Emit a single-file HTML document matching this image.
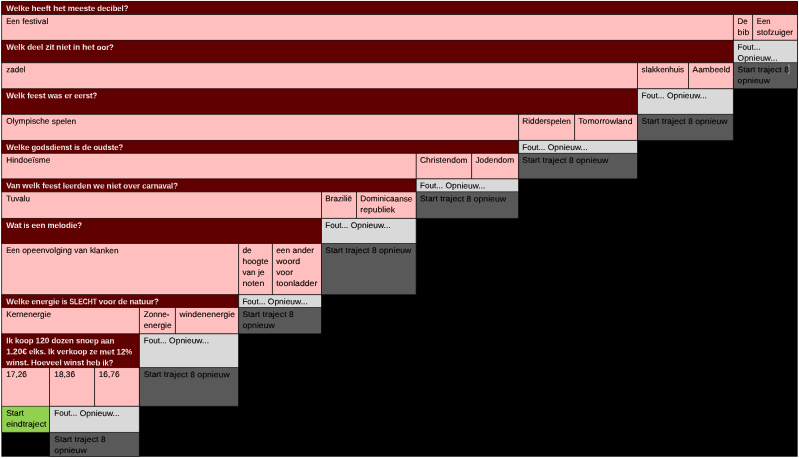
<!DOCTYPE html>
<html lang="nl"><head><meta charset="utf-8"><title>Traject 8</title>
<style>
html,body{margin:0;padding:0;background:#fff;overflow:hidden}
svg{display:block}
text{font-family:"Liberation Sans",sans-serif;font-size:8.12px;text-rendering:geometricPrecision;stroke-width:0.1px}
.k{stroke:#000}.w{stroke:#600000;stroke-width:0.14px}
.b{font-weight:bold}
</style></head><body>
<svg width="799" height="459" viewBox="0 0 799 459">
<rect x="0" y="0" width="799" height="459" fill="#fff"/>
<rect x="1.40" y="1.20" width="796.25" height="455.50" fill="#000"/>
<rect x="1.55" y="1.40" width="795.95" height="13.10" fill="#600000"/>
<rect x="1.55" y="14.50" width="731.85" height="25.75" fill="#FFBFBF"/>
<rect x="733.40" y="14.50" width="19.20" height="25.75" fill="#FFBFBF"/>
<rect x="752.60" y="14.50" width="44.90" height="25.75" fill="#FFBFBF"/>
<rect x="1.55" y="40.25" width="731.85" height="22.45" fill="#600000"/>
<rect x="733.40" y="40.25" width="64.10" height="22.45" fill="#D9D9D9"/>
<rect x="1.55" y="62.70" width="635.95" height="26.00" fill="#FFBFBF"/>
<rect x="637.50" y="62.70" width="51.00" height="26.00" fill="#FFBFBF"/>
<rect x="688.50" y="62.70" width="44.90" height="26.00" fill="#FFBFBF"/>
<rect x="733.40" y="62.70" width="64.10" height="26.00" fill="#595959"/>
<rect x="1.55" y="88.70" width="635.95" height="25.60" fill="#600000"/>
<rect x="637.50" y="88.70" width="95.90" height="25.60" fill="#D9D9D9"/>
<rect x="1.55" y="114.30" width="517.05" height="26.10" fill="#FFBFBF"/>
<rect x="518.60" y="114.30" width="56.00" height="26.10" fill="#FFBFBF"/>
<rect x="574.60" y="114.30" width="62.90" height="26.10" fill="#FFBFBF"/>
<rect x="637.50" y="114.30" width="95.90" height="26.10" fill="#595959"/>
<rect x="1.55" y="140.40" width="517.05" height="12.90" fill="#600000"/>
<rect x="518.60" y="140.40" width="118.90" height="12.90" fill="#D9D9D9"/>
<rect x="1.55" y="153.30" width="414.65" height="25.50" fill="#FFBFBF"/>
<rect x="416.20" y="153.30" width="55.40" height="25.50" fill="#FFBFBF"/>
<rect x="471.60" y="153.30" width="47.00" height="25.50" fill="#FFBFBF"/>
<rect x="518.60" y="153.30" width="118.90" height="25.50" fill="#595959"/>
<rect x="1.55" y="178.80" width="414.65" height="13.00" fill="#600000"/>
<rect x="416.20" y="178.80" width="102.40" height="13.00" fill="#D9D9D9"/>
<rect x="1.55" y="191.80" width="319.95" height="26.60" fill="#FFBFBF"/>
<rect x="321.50" y="191.80" width="35.00" height="26.60" fill="#FFBFBF"/>
<rect x="356.50" y="191.80" width="59.70" height="26.60" fill="#FFBFBF"/>
<rect x="416.20" y="191.80" width="102.40" height="26.60" fill="#595959"/>
<rect x="1.55" y="218.40" width="319.95" height="25.10" fill="#600000"/>
<rect x="321.50" y="218.40" width="94.70" height="25.10" fill="#D9D9D9"/>
<rect x="1.55" y="243.50" width="237.05" height="51.10" fill="#FFBFBF"/>
<rect x="238.60" y="243.50" width="33.80" height="51.10" fill="#FFBFBF"/>
<rect x="272.40" y="243.50" width="49.10" height="51.10" fill="#FFBFBF"/>
<rect x="321.50" y="243.50" width="94.70" height="51.10" fill="#595959"/>
<rect x="1.55" y="294.60" width="237.05" height="12.90" fill="#600000"/>
<rect x="238.60" y="294.60" width="82.90" height="12.90" fill="#D9D9D9"/>
<rect x="1.55" y="307.50" width="137.85" height="26.25" fill="#FFBFBF"/>
<rect x="139.40" y="307.50" width="36.00" height="26.25" fill="#FFBFBF"/>
<rect x="175.40" y="307.50" width="63.20" height="26.25" fill="#FFBFBF"/>
<rect x="238.60" y="307.50" width="82.90" height="26.25" fill="#595959"/>
<rect x="1.55" y="333.75" width="137.85" height="33.80" fill="#600000"/>
<rect x="139.40" y="333.75" width="99.20" height="33.80" fill="#D9D9D9"/>
<rect x="1.55" y="367.55" width="47.95" height="38.75" fill="#FFBFBF"/>
<rect x="49.50" y="367.55" width="45.05" height="38.75" fill="#FFBFBF"/>
<rect x="94.55" y="367.55" width="44.85" height="38.75" fill="#FFBFBF"/>
<rect x="139.40" y="367.55" width="99.20" height="38.75" fill="#595959"/>
<rect x="1.55" y="406.30" width="47.95" height="26.10" fill="#92D050"/>
<rect x="49.50" y="406.30" width="89.90" height="26.10" fill="#D9D9D9"/>
<rect x="49.50" y="432.40" width="89.90" height="24.10" fill="#595959"/>
<path d="M1.65 1.40L1.65 14.50M1.65 14.50L1.65 40.25M1.65 40.25L1.65 62.70M1.65 62.70L1.65 88.70M1.65 88.70L1.65 114.30M1.65 114.30L1.65 140.40M1.65 140.40L1.65 153.30M1.65 153.30L1.65 178.80M1.65 178.80L1.65 191.80M1.65 191.80L1.65 218.40M1.65 218.40L1.65 243.50M1.65 243.50L1.65 294.60M1.65 294.60L1.65 307.50M1.65 307.50L1.65 333.75M1.65 333.75L1.65 367.55M1.65 367.55L1.65 406.30M1.65 406.30L1.65 432.40" stroke="#000" stroke-width="0.55" fill="none"/>
<path d="M1.55 1.40L797.50 1.40M1.55 14.50L733.40 14.50M1.55 14.50L797.50 14.50M1.55 40.25L733.40 40.25M1.55 62.70L637.50 62.70M1.55 62.70L733.40 62.70M1.55 88.70L637.50 88.70M1.55 114.30L518.60 114.30M1.55 114.30L637.50 114.30M1.55 140.40L518.60 140.40M1.55 153.30L416.20 153.30M1.55 153.30L518.60 153.30M1.55 178.80L416.20 178.80M1.55 191.80L321.50 191.80M1.55 191.80L416.20 191.80M1.55 218.40L321.50 218.40M1.55 243.50L238.60 243.50M1.55 243.50L321.50 243.50M1.55 294.60L238.60 294.60M1.55 307.50L139.40 307.50M1.55 307.50L238.60 307.50M1.55 333.75L139.40 333.75M1.55 367.55L49.50 367.55M1.55 367.55L139.40 367.55M1.55 406.30L49.50 406.30M1.55 432.40L49.50 432.40M49.50 367.55L94.55 367.55M49.50 406.30L94.55 406.30M49.50 406.30L139.40 406.30M49.50 432.40L139.40 432.40M49.50 456.50L139.40 456.50M94.55 367.55L139.40 367.55M94.55 406.30L139.40 406.30M139.40 307.50L175.40 307.50M139.40 333.75L175.40 333.75M139.40 333.75L238.60 333.75M139.40 367.55L238.60 367.55M139.40 406.30L238.60 406.30M175.40 307.50L238.60 307.50M175.40 333.75L238.60 333.75M238.60 243.50L272.40 243.50M238.60 294.60L272.40 294.60M238.60 294.60L321.50 294.60M238.60 307.50L321.50 307.50M238.60 333.75L321.50 333.75M272.40 243.50L321.50 243.50M272.40 294.60L321.50 294.60M321.50 191.80L356.50 191.80M321.50 218.40L356.50 218.40M321.50 218.40L416.20 218.40M321.50 243.50L416.20 243.50M321.50 294.60L416.20 294.60M356.50 191.80L416.20 191.80M356.50 218.40L416.20 218.40M416.20 153.30L471.60 153.30M416.20 178.80L471.60 178.80M416.20 178.80L518.60 178.80M416.20 191.80L518.60 191.80M416.20 218.40L518.60 218.40M471.60 153.30L518.60 153.30M471.60 178.80L518.60 178.80M518.60 114.30L574.60 114.30M518.60 140.40L574.60 140.40M518.60 140.40L637.50 140.40M518.60 153.30L637.50 153.30M518.60 178.80L637.50 178.80M574.60 114.30L637.50 114.30M574.60 140.40L637.50 140.40M637.50 62.70L688.50 62.70M637.50 88.70L688.50 88.70M637.50 88.70L733.40 88.70M637.50 114.30L733.40 114.30M637.50 140.40L733.40 140.40M688.50 62.70L733.40 62.70M688.50 88.70L733.40 88.70M733.40 14.50L752.60 14.50M733.40 40.25L752.60 40.25M733.40 40.25L797.50 40.25M733.40 62.70L797.50 62.70M733.40 88.70L797.50 88.70M752.60 14.50L797.50 14.50M752.60 40.25L797.50 40.25" stroke="#000" stroke-width="0.42" fill="none"/>
<path d="M49.50 367.55L49.50 406.30M49.50 406.30L49.50 432.40M49.50 432.40L49.50 456.50M94.55 367.55L94.55 406.30M139.40 307.50L139.40 333.75M139.40 333.75L139.40 367.55M139.40 367.55L139.40 406.30M139.40 406.30L139.40 432.40M139.40 432.40L139.40 456.50M175.40 307.50L175.40 333.75M238.60 243.50L238.60 294.60M238.60 294.60L238.60 307.50M238.60 307.50L238.60 333.75M238.60 333.75L238.60 367.55M238.60 367.55L238.60 406.30M272.40 243.50L272.40 294.60M321.50 191.80L321.50 218.40M321.50 218.40L321.50 243.50M321.50 243.50L321.50 294.60M321.50 294.60L321.50 307.50M321.50 307.50L321.50 333.75M356.50 191.80L356.50 218.40M416.20 153.30L416.20 178.80M416.20 178.80L416.20 191.80M416.20 191.80L416.20 218.40M416.20 218.40L416.20 243.50M416.20 243.50L416.20 294.60M471.60 153.30L471.60 178.80M518.60 114.30L518.60 140.40M518.60 140.40L518.60 153.30M518.60 153.30L518.60 178.80M518.60 178.80L518.60 191.80M518.60 191.80L518.60 218.40M574.60 114.30L574.60 140.40M637.50 62.70L637.50 88.70M637.50 88.70L637.50 114.30M637.50 114.30L637.50 140.40M637.50 140.40L637.50 153.30M637.50 153.30L637.50 178.80M688.50 62.70L688.50 88.70M733.40 14.50L733.40 40.25M733.40 40.25L733.40 62.70M733.40 62.70L733.40 88.70M733.40 88.70L733.40 114.30M733.40 114.30L733.40 140.40M752.60 14.50L752.60 40.25M797.50 1.40L797.50 14.50M797.50 14.50L797.50 40.25M797.50 40.25L797.50 62.70M797.50 62.70L797.50 88.70" stroke="#000" stroke-width="0.70" fill="none"/>
<rect x="788.4" y="64.5" width="0.9" height="9.5" fill="#b0b0b0"/>
<g transform="matrix(1 0.001 0 1 0 0)">
<text class="b w" y="10.94" fill="#fff"><tspan x="6.15" textLength="23.28" lengthAdjust="spacingAndGlyphs">Welke</tspan> <tspan x="31.47" textLength="19.63" lengthAdjust="spacingAndGlyphs">heeft</tspan> <tspan x="53.15" textLength="12.47" lengthAdjust="spacingAndGlyphs">het</tspan> <tspan x="67.66" textLength="27.53" lengthAdjust="spacingAndGlyphs">meeste</tspan> <tspan x="97.24" textLength="31.22" lengthAdjust="spacingAndGlyphs">decibel?</tspan></text>
<text class="k" y="24.04" fill="#000"><tspan x="6.15" textLength="13.63" lengthAdjust="spacingAndGlyphs">Een</tspan> <tspan x="22.18" textLength="26.12" lengthAdjust="spacingAndGlyphs">festival</tspan></text>
<text class="k" y="23.31" fill="#000"><tspan x="737.60" textLength="10.16" lengthAdjust="spacingAndGlyphs">De</tspan></text>
<text class="k" y="34.31" fill="#000"><tspan x="737.60" textLength="11.69" lengthAdjust="spacingAndGlyphs">bib</tspan></text>
<text class="k" y="23.29" fill="#000"><tspan x="756.80" textLength="13.63" lengthAdjust="spacingAndGlyphs">Een</tspan></text>
<text class="k" y="34.29" fill="#000"><tspan x="756.80" textLength="36.35" lengthAdjust="spacingAndGlyphs">stofzuiger</tspan></text>
<text class="b w" y="49.79" fill="#fff"><tspan x="6.15" textLength="18.98" lengthAdjust="spacingAndGlyphs">Welk</tspan> <tspan x="27.17" textLength="16.17" lengthAdjust="spacingAndGlyphs">deel</tspan> <tspan x="45.38" textLength="8.95" lengthAdjust="spacingAndGlyphs">zit</tspan> <tspan x="56.37" textLength="14.69" lengthAdjust="spacingAndGlyphs">niet</tspan> <tspan x="73.11" textLength="7.07" lengthAdjust="spacingAndGlyphs">in</tspan> <tspan x="82.22" textLength="12.47" lengthAdjust="spacingAndGlyphs">het</tspan> <tspan x="96.73" textLength="17.12" lengthAdjust="spacingAndGlyphs">oor?</tspan></text>
<text class="k" y="49.06" fill="#000"><tspan x="737.60" textLength="23.04" lengthAdjust="spacingAndGlyphs">Fout...</tspan></text>
<text class="k" y="60.06" fill="#000"><tspan x="737.60" textLength="39.91" lengthAdjust="spacingAndGlyphs">Opnieuw...</tspan></text>
<text class="k" y="72.24" fill="#000"><tspan x="6.15" textLength="19.26" lengthAdjust="spacingAndGlyphs">zadel</tspan></text>
<text class="k" y="71.61" fill="#000"><tspan x="641.55" textLength="42.65" lengthAdjust="spacingAndGlyphs">slakkenhuis</tspan></text>
<text class="k" y="71.56" fill="#000"><tspan x="692.55" textLength="37.73" lengthAdjust="spacingAndGlyphs">Aambeeld</tspan></text>
<text class="k" y="71.51" fill="#000"><tspan x="737.60" textLength="17.76" lengthAdjust="spacingAndGlyphs">Start</tspan> <tspan x="757.76" textLength="24.07" lengthAdjust="spacingAndGlyphs">traject</tspan> <tspan x="784.23" textLength="4.63" lengthAdjust="spacingAndGlyphs">8</tspan></text>
<text class="k" y="82.51" fill="#000"><tspan x="737.60" textLength="32.37" lengthAdjust="spacingAndGlyphs">opnieuw</tspan></text>
<text class="b w" y="98.24" fill="#fff"><tspan x="6.15" textLength="18.98" lengthAdjust="spacingAndGlyphs">Welk</tspan> <tspan x="27.17" textLength="18.44" lengthAdjust="spacingAndGlyphs">feest</tspan> <tspan x="47.65" textLength="14.71" lengthAdjust="spacingAndGlyphs">was</tspan> <tspan x="64.40" textLength="7.76" lengthAdjust="spacingAndGlyphs">er</tspan> <tspan x="74.20" textLength="23.03" lengthAdjust="spacingAndGlyphs">eerst?</tspan></text>
<text class="k" y="97.61" fill="#000"><tspan x="641.55" textLength="23.04" lengthAdjust="spacingAndGlyphs">Fout...</tspan> <tspan x="666.99" textLength="39.91" lengthAdjust="spacingAndGlyphs">Opnieuw...</tspan></text>
<text class="k" y="123.84" fill="#000"><tspan x="6.15" textLength="43.23" lengthAdjust="spacingAndGlyphs">Olympische</tspan> <tspan x="51.78" textLength="24.35" lengthAdjust="spacingAndGlyphs">spelen</tspan></text>
<text class="k" y="123.33" fill="#000"><tspan x="522.30" textLength="48.56" lengthAdjust="spacingAndGlyphs">Ridderspelen</tspan></text>
<text class="k" y="123.27" fill="#000"><tspan x="578.30" textLength="54.15" lengthAdjust="spacingAndGlyphs">Tomorrowland</tspan></text>
<text class="k" y="123.21" fill="#000"><tspan x="641.55" textLength="17.76" lengthAdjust="spacingAndGlyphs">Start</tspan> <tspan x="661.71" textLength="24.07" lengthAdjust="spacingAndGlyphs">traject</tspan> <tspan x="688.18" textLength="4.63" lengthAdjust="spacingAndGlyphs">8</tspan> <tspan x="695.21" textLength="32.37" lengthAdjust="spacingAndGlyphs">opnieuw</tspan></text>
<text class="b w" y="149.94" fill="#fff"><tspan x="6.15" textLength="23.28" lengthAdjust="spacingAndGlyphs">Welke</tspan> <tspan x="31.47" textLength="40.63" lengthAdjust="spacingAndGlyphs">godsdienst</tspan> <tspan x="74.14" textLength="5.83" lengthAdjust="spacingAndGlyphs">is</tspan> <tspan x="82.01" textLength="9.40" lengthAdjust="spacingAndGlyphs">de</tspan> <tspan x="93.45" textLength="29.83" lengthAdjust="spacingAndGlyphs">oudste?</tspan></text>
<text class="k" y="149.43" fill="#000"><tspan x="522.30" textLength="23.04" lengthAdjust="spacingAndGlyphs">Fout...</tspan> <tspan x="547.74" textLength="39.91" lengthAdjust="spacingAndGlyphs">Opnieuw...</tspan></text>
<text class="k" y="162.84" fill="#000"><tspan x="6.15" textLength="44.24" lengthAdjust="spacingAndGlyphs">Hindoeïsme</tspan></text>
<text class="k" y="162.43" fill="#000"><tspan x="420.00" textLength="47.62" lengthAdjust="spacingAndGlyphs">Christendom</tspan></text>
<text class="k" y="162.37" fill="#000"><tspan x="475.40" textLength="38.77" lengthAdjust="spacingAndGlyphs">Jodendom</tspan></text>
<text class="k" y="162.33" fill="#000"><tspan x="522.30" textLength="17.76" lengthAdjust="spacingAndGlyphs">Start</tspan> <tspan x="542.46" textLength="24.07" lengthAdjust="spacingAndGlyphs">traject</tspan> <tspan x="568.93" textLength="4.63" lengthAdjust="spacingAndGlyphs">8</tspan> <tspan x="575.96" textLength="32.37" lengthAdjust="spacingAndGlyphs">opnieuw</tspan></text>
<text class="b w" y="188.34" fill="#fff"><tspan x="6.15" textLength="14.16" lengthAdjust="spacingAndGlyphs">Van</tspan> <tspan x="22.35" textLength="17.78" lengthAdjust="spacingAndGlyphs">welk</tspan> <tspan x="42.17" textLength="18.44" lengthAdjust="spacingAndGlyphs">feest</tspan> <tspan x="62.65" textLength="28.68" lengthAdjust="spacingAndGlyphs">leerden</tspan> <tspan x="93.37" textLength="11.22" lengthAdjust="spacingAndGlyphs">we</tspan> <tspan x="106.62" textLength="14.69" lengthAdjust="spacingAndGlyphs">niet</tspan> <tspan x="123.36" textLength="16.79" lengthAdjust="spacingAndGlyphs">over</tspan> <tspan x="142.19" textLength="35.61" lengthAdjust="spacingAndGlyphs">carnaval?</tspan></text>
<text class="k" y="187.93" fill="#000"><tspan x="420.00" textLength="23.04" lengthAdjust="spacingAndGlyphs">Fout...</tspan> <tspan x="445.44" textLength="39.91" lengthAdjust="spacingAndGlyphs">Opnieuw...</tspan></text>
<text class="k" y="201.34" fill="#000"><tspan x="6.15" textLength="23.94" lengthAdjust="spacingAndGlyphs">Tuvalu</tspan></text>
<text class="k" y="201.02" fill="#000"><tspan x="325.30" textLength="26.77" lengthAdjust="spacingAndGlyphs">Brazilië</tspan></text>
<text class="k" y="200.99" fill="#000"><tspan x="360.30" textLength="52.16" lengthAdjust="spacingAndGlyphs">Dominicaanse</tspan></text>
<text class="k" y="211.99" fill="#000"><tspan x="360.30" textLength="34.88" lengthAdjust="spacingAndGlyphs">republiek</tspan></text>
<text class="k" y="200.93" fill="#000"><tspan x="420.00" textLength="17.76" lengthAdjust="spacingAndGlyphs">Start</tspan> <tspan x="440.16" textLength="24.07" lengthAdjust="spacingAndGlyphs">traject</tspan> <tspan x="466.63" textLength="4.63" lengthAdjust="spacingAndGlyphs">8</tspan> <tspan x="473.66" textLength="32.37" lengthAdjust="spacingAndGlyphs">opnieuw</tspan></text>
<text class="b w" y="227.94" fill="#fff"><tspan x="6.15" textLength="15.38" lengthAdjust="spacingAndGlyphs">Wat</tspan> <tspan x="23.57" textLength="5.83" lengthAdjust="spacingAndGlyphs">is</tspan> <tspan x="31.44" textLength="13.95" lengthAdjust="spacingAndGlyphs">een</tspan> <tspan x="47.43" textLength="34.80" lengthAdjust="spacingAndGlyphs">melodie?</tspan></text>
<text class="k" y="227.62" fill="#000"><tspan x="325.30" textLength="23.04" lengthAdjust="spacingAndGlyphs">Fout...</tspan> <tspan x="350.74" textLength="39.91" lengthAdjust="spacingAndGlyphs">Opnieuw...</tspan></text>
<text class="k" y="253.04" fill="#000"><tspan x="6.15" textLength="13.63" lengthAdjust="spacingAndGlyphs">Een</tspan> <tspan x="22.18" textLength="49.78" lengthAdjust="spacingAndGlyphs">opeenvolging</tspan> <tspan x="74.36" textLength="13.16" lengthAdjust="spacingAndGlyphs">van</tspan> <tspan x="89.92" textLength="28.61" lengthAdjust="spacingAndGlyphs">klanken</tspan></text>
<text class="k" y="252.81" fill="#000"><tspan x="242.40" textLength="9.34" lengthAdjust="spacingAndGlyphs">de</tspan></text>
<text class="k" y="263.81" fill="#000"><tspan x="242.40" textLength="26.09" lengthAdjust="spacingAndGlyphs">hoogte</tspan></text>
<text class="k" y="274.81" fill="#000"><tspan x="242.40" textLength="13.16" lengthAdjust="spacingAndGlyphs">van</tspan> <tspan x="257.96" textLength="6.73" lengthAdjust="spacingAndGlyphs">je</tspan></text>
<text class="k" y="285.81" fill="#000"><tspan x="242.40" textLength="21.91" lengthAdjust="spacingAndGlyphs">noten</tspan></text>
<text class="k" y="252.77" fill="#000"><tspan x="276.20" textLength="13.88" lengthAdjust="spacingAndGlyphs">een</tspan> <tspan x="292.48" textLength="21.69" lengthAdjust="spacingAndGlyphs">ander</tspan></text>
<text class="k" y="263.77" fill="#000"><tspan x="276.20" textLength="23.93" lengthAdjust="spacingAndGlyphs">woord</tspan></text>
<text class="k" y="274.77" fill="#000"><tspan x="276.20" textLength="16.85" lengthAdjust="spacingAndGlyphs">voor</tspan></text>
<text class="k" y="285.77" fill="#000"><tspan x="276.20" textLength="41.18" lengthAdjust="spacingAndGlyphs">toonladder</tspan></text>
<text class="k" y="252.72" fill="#000"><tspan x="325.30" textLength="17.76" lengthAdjust="spacingAndGlyphs">Start</tspan> <tspan x="345.46" textLength="24.07" lengthAdjust="spacingAndGlyphs">traject</tspan> <tspan x="371.93" textLength="4.63" lengthAdjust="spacingAndGlyphs">8</tspan> <tspan x="378.96" textLength="32.37" lengthAdjust="spacingAndGlyphs">opnieuw</tspan></text>
<text class="b w" y="304.14" fill="#fff"><tspan x="6.15" textLength="23.28" lengthAdjust="spacingAndGlyphs">Welke</tspan> <tspan x="31.47" textLength="28.12" lengthAdjust="spacingAndGlyphs">energie</tspan> <tspan x="61.63" textLength="5.83" lengthAdjust="spacingAndGlyphs">is</tspan> <tspan x="69.50" textLength="27.34" lengthAdjust="spacingAndGlyphs">SLECHT</tspan> <tspan x="98.87" textLength="17.13" lengthAdjust="spacingAndGlyphs">voor</tspan> <tspan x="118.04" textLength="9.40" lengthAdjust="spacingAndGlyphs">de</tspan> <tspan x="129.48" textLength="29.47" lengthAdjust="spacingAndGlyphs">natuur?</tspan></text>
<text class="k" y="303.91" fill="#000"><tspan x="242.40" textLength="23.04" lengthAdjust="spacingAndGlyphs">Fout...</tspan> <tspan x="267.84" textLength="39.91" lengthAdjust="spacingAndGlyphs">Opnieuw...</tspan></text>
<text class="k" y="317.04" fill="#000"><tspan x="6.15" textLength="44.98" lengthAdjust="spacingAndGlyphs">Kernenergie</tspan></text>
<text class="k" y="316.91" fill="#000"><tspan x="143.70" textLength="25.89" lengthAdjust="spacingAndGlyphs">Zonne-</tspan></text>
<text class="k" y="327.91" fill="#000"><tspan x="143.70" textLength="27.88" lengthAdjust="spacingAndGlyphs">energie</tspan></text>
<text class="k" y="316.87" fill="#000"><tspan x="179.50" textLength="55.43" lengthAdjust="spacingAndGlyphs">windenenergie</tspan></text>
<text class="k" y="316.81" fill="#000"><tspan x="242.40" textLength="17.76" lengthAdjust="spacingAndGlyphs">Start</tspan> <tspan x="262.56" textLength="24.07" lengthAdjust="spacingAndGlyphs">traject</tspan> <tspan x="289.03" textLength="4.63" lengthAdjust="spacingAndGlyphs">8</tspan></text>
<text class="k" y="327.81" fill="#000"><tspan x="242.40" textLength="32.37" lengthAdjust="spacingAndGlyphs">opnieuw</tspan></text>
<text class="b w" y="343.29" fill="#fff"><tspan x="6.15" textLength="6.75" lengthAdjust="spacingAndGlyphs">Ik</tspan> <tspan x="14.94" textLength="18.65" lengthAdjust="spacingAndGlyphs">koop</tspan> <tspan x="35.63" textLength="13.75" lengthAdjust="spacingAndGlyphs">120</tspan> <tspan x="51.42" textLength="22.45" lengthAdjust="spacingAndGlyphs">dozen</tspan> <tspan x="75.90" textLength="22.72" lengthAdjust="spacingAndGlyphs">snoep</tspan> <tspan x="100.66" textLength="13.78" lengthAdjust="spacingAndGlyphs">aan</tspan></text>
<text class="b w" y="354.29" fill="#fff"><tspan x="6.15" textLength="20.74" lengthAdjust="spacingAndGlyphs">1.20€</tspan> <tspan x="28.93" textLength="17.06" lengthAdjust="spacingAndGlyphs">elks.</tspan> <tspan x="48.03" textLength="6.75" lengthAdjust="spacingAndGlyphs">Ik</tspan> <tspan x="56.82" textLength="30.61" lengthAdjust="spacingAndGlyphs">verkoop</tspan> <tspan x="89.47" textLength="7.98" lengthAdjust="spacingAndGlyphs">ze</tspan> <tspan x="99.48" textLength="14.98" lengthAdjust="spacingAndGlyphs">met</tspan> <tspan x="116.50" textLength="15.75" lengthAdjust="spacingAndGlyphs">12%</tspan></text>
<text class="b w" y="365.29" fill="#fff"><tspan x="6.15" textLength="22.86" lengthAdjust="spacingAndGlyphs">winst.</tspan> <tspan x="31.05" textLength="30.59" lengthAdjust="spacingAndGlyphs">Hoeveel</tspan> <tspan x="63.68" textLength="20.45" lengthAdjust="spacingAndGlyphs">winst</tspan> <tspan x="86.16" textLength="14.25" lengthAdjust="spacingAndGlyphs">heb</tspan> <tspan x="102.45" textLength="10.75" lengthAdjust="spacingAndGlyphs">ik?</tspan></text>
<text class="k" y="343.16" fill="#000"><tspan x="143.70" textLength="23.04" lengthAdjust="spacingAndGlyphs">Fout...</tspan> <tspan x="169.14" textLength="39.91" lengthAdjust="spacingAndGlyphs">Opnieuw...</tspan></text>
<text class="k" y="377.09" fill="#000"><tspan x="6.15" textLength="20.79" lengthAdjust="spacingAndGlyphs">17,26</tspan></text>
<text class="k" y="377.05" fill="#000"><tspan x="54.30" textLength="20.79" lengthAdjust="spacingAndGlyphs">18,36</tspan></text>
<text class="k" y="377.00" fill="#000"><tspan x="98.75" textLength="20.79" lengthAdjust="spacingAndGlyphs">16,76</tspan></text>
<text class="k" y="376.96" fill="#000"><tspan x="143.70" textLength="17.76" lengthAdjust="spacingAndGlyphs">Start</tspan> <tspan x="163.86" textLength="24.07" lengthAdjust="spacingAndGlyphs">traject</tspan> <tspan x="190.33" textLength="4.63" lengthAdjust="spacingAndGlyphs">8</tspan> <tspan x="197.36" textLength="32.37" lengthAdjust="spacingAndGlyphs">opnieuw</tspan></text>
<text class="k" y="415.84" fill="#000"><tspan x="6.15" textLength="17.76" lengthAdjust="spacingAndGlyphs">Start</tspan></text>
<text class="k" y="426.84" fill="#000"><tspan x="6.15" textLength="40.31" lengthAdjust="spacingAndGlyphs">eindtraject</tspan></text>
<text class="k" y="415.80" fill="#000"><tspan x="54.30" textLength="23.04" lengthAdjust="spacingAndGlyphs">Fout...</tspan> <tspan x="79.74" textLength="39.91" lengthAdjust="spacingAndGlyphs">Opnieuw...</tspan></text>
<text class="k" y="441.90" fill="#000"><tspan x="54.30" textLength="17.76" lengthAdjust="spacingAndGlyphs">Start</tspan> <tspan x="74.46" textLength="24.07" lengthAdjust="spacingAndGlyphs">traject</tspan> <tspan x="100.93" textLength="4.63" lengthAdjust="spacingAndGlyphs">8</tspan></text>
<text class="k" y="452.90" fill="#000"><tspan x="54.30" textLength="32.37" lengthAdjust="spacingAndGlyphs">opnieuw</tspan></text>
</g>
</svg>
</body></html>
